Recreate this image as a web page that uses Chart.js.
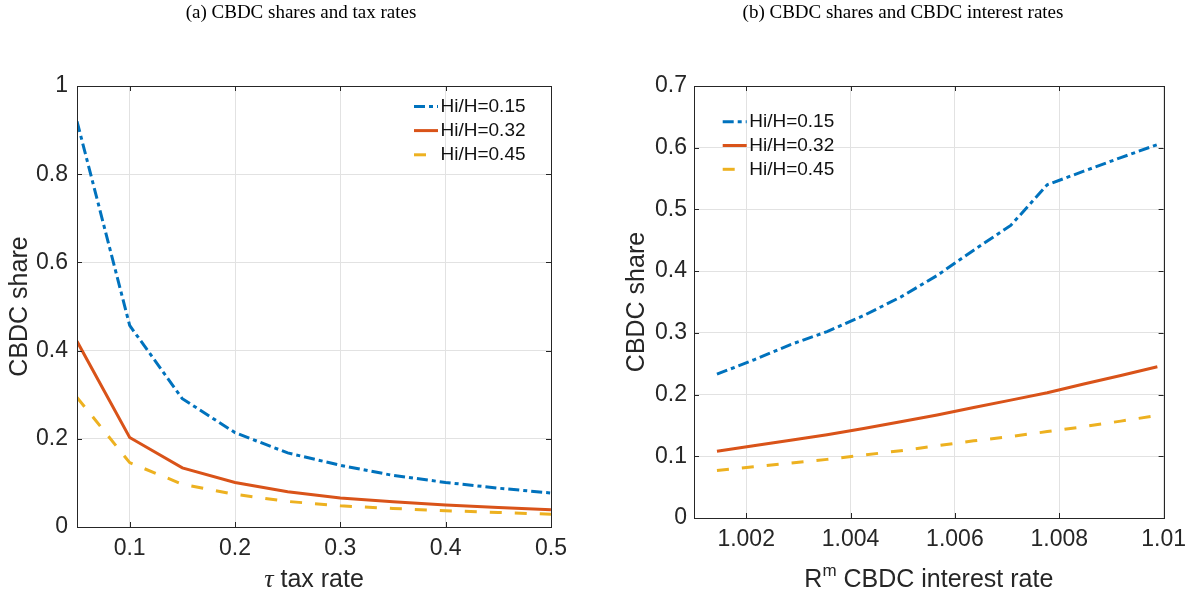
<!DOCTYPE html>
<html>
<head>
<meta charset="utf-8">
<title>CBDC shares</title>
<script src="https://cdn.jsdelivr.net/npm/chart.js@4.4.0/dist/chart.umd.min.js"></script>
<style>
  html, body { margin: 0; padding: 0; background: #fff; }
  .panel { position: absolute; top: 0; width: 597px; height: 600px; }
</style>
</head>
<body>
<div class="panel" style="left:0"><canvas id="chartTax" width="597" height="600"></canvas></div>
<div class="panel" style="left:597px"><canvas id="chartRate" width="597" height="600"></canvas></div>
<script>
const seriesNames = ["Hi/H=0.15", "Hi/H=0.32", "Hi/H=0.45"];

// (a) CBDC share against the tax rate
const taxRates   = [0.05, 0.10, 0.15, 0.20, 0.25, 0.30, 0.35, 0.40, 0.45, 0.50];
const taxShare15 = [0.920, 0.457, 0.291, 0.214, 0.168, 0.140, 0.117, 0.101, 0.088, 0.077];
const taxShare32 = [0.421, 0.203, 0.134, 0.101, 0.080, 0.066, 0.057, 0.050, 0.044, 0.039];
const taxShare45 = [0.294, 0.146, 0.097, 0.074, 0.058, 0.048, 0.042, 0.037, 0.033, 0.029];
const taxXTicks = [0.1, 0.2, 0.3, 0.4, 0.5];
const taxXTickLabels = ["0.1", "0.2", "0.3", "0.4", "0.5"];
const taxYTicks = [0, 0.2, 0.4, 0.6, 0.8, 1];
const taxYTickLabels = ["0", "0.2", "0.4", "0.6", "0.8", "1"];

// (b) CBDC share against the CBDC interest rate
const cbdcRates = [1.00144, 1.00214, 1.00285, 1.00355, 1.00425, 1.00496, 1.00566,
                   1.00636, 1.00707, 1.00777, 1.00847, 1.00918, 1.00988];
const rateShare15 = [0.233, 0.256, 0.281, 0.302, 0.328, 0.358, 0.393, 0.434, 0.474, 0.540, 0.562, 0.584, 0.605];
const rateShare32 = [0.108, 0.117, 0.126, 0.135, 0.145, 0.156, 0.167, 0.179, 0.191, 0.203, 0.217, 0.231, 0.245];
const rateShare45 = [0.077, 0.083, 0.089, 0.095, 0.102, 0.109, 0.117, 0.125, 0.132, 0.140, 0.148, 0.157, 0.166];
const rateXTicks = [1.002, 1.004, 1.006, 1.008, 1.01];
const rateXTickLabels = ["1.002", "1.004", "1.006", "1.008", "1.01"];
const rateYTicks = [0, 0.1, 0.2, 0.3, 0.4, 0.5, 0.6, 0.7];
const rateYTickLabels = ["0", "0.1", "0.2", "0.3", "0.4", "0.5", "0.6", "0.7"];

const lineStyles = [
  { color: "#0072BD", dash: [11, 4, 4, 4] },
  { color: "#D95319", dash: [] },
  { color: "#EDB120", dash: [12, 13] }
];

const SANS = "'Liberation Sans', Arial, Helvetica, sans-serif";
const SERIF = "'Liberation Serif', 'Times New Roman', serif";
const INK = "#262626";

Chart.defaults.font.family = SANS;
Chart.defaults.color = INK;

// axes box with short inward tick marks on all four sides
const frame = {
  id: "frame",
  afterDraw(chart) {
    const { ctx, chartArea: a, scales } = chart;
    const len = 5;
    ctx.save();
    ctx.strokeStyle = INK;
    ctx.lineWidth = 1;
    ctx.setLineDash([]);
    ctx.strokeRect(Math.round(a.left) + 0.5, Math.round(a.top) + 0.5,
                   Math.round(a.right - a.left), Math.round(a.bottom - a.top));
    ctx.beginPath();
    scales.x.ticks.forEach(t => {
      const px = Math.round(scales.x.getPixelForValue(t.value)) + 0.5;
      ctx.moveTo(px, a.bottom); ctx.lineTo(px, a.bottom - len);
      ctx.moveTo(px, a.top); ctx.lineTo(px, a.top + len);
    });
    scales.y.ticks.forEach(t => {
      const py = Math.round(scales.y.getPixelForValue(t.value)) + 0.5;
      ctx.moveTo(a.left, py); ctx.lineTo(a.left + len, py);
      ctx.moveTo(a.right, py); ctx.lineTo(a.right - len, py);
    });
    ctx.stroke();
    ctx.restore();
  }
};

// legend drawn inside the plot, using each dataset's own line style
function makeLegend(cfg) {
  return {
    id: "innerLegend",
    afterDatasetsDraw(chart) {
      const { ctx, chartArea: a } = chart;
      const x0 = cfg.side === "right" ? a.right - cfg.inset : a.left + cfg.inset;
      ctx.save();
      ctx.font = "19px " + SANS;
      ctx.textBaseline = "middle";
      chart.data.datasets.forEach((ds, i) => {
        const y = a.top + cfg.top + i * cfg.rowGap;
        ctx.strokeStyle = ds.borderColor;
        ctx.lineWidth = ds.borderWidth;
        ctx.lineCap = "butt";
        ctx.setLineDash(ds.borderDash || []);
        ctx.beginPath();
        ctx.moveTo(x0, y);
        ctx.lineTo(x0 + 24, y);
        ctx.stroke();
        ctx.fillStyle = "#111";
        ctx.fillText(ds.label, x0 + 26.5, y);
      });
      ctx.restore();
    }
  };
}

// x-axis caption with mixed styles (italic tau, superscript m)
function makeCaption(parts) {
  return {
    id: "xCaption",
    afterDraw(chart) {
      const { ctx, chartArea: a } = chart;
      ctx.save();
      ctx.textBaseline = "alphabetic";
      const widths = parts.map(p => { ctx.font = p.font; return ctx.measureText(p.text).width; });
      const total = widths.reduce((s, w) => s + w, 0);
      let x = (a.left + a.right) / 2 - total / 2;
      const y = chart.height - 13;
      parts.forEach((p, i) => {
        ctx.font = p.font;
        ctx.fillStyle = INK;
        ctx.fillText(p.text, x, y - (p.rise || 0));
        x += widths[i];
      });
      ctx.restore();
    }
  };
}

function buildChart(id, cfg) {
  return new Chart(document.getElementById(id), {
    type: "line",
    data: {
      datasets: cfg.series.map((vals, i) => ({
        label: seriesNames[i],
        data: cfg.x.map((x, j) => ({ x: x, y: vals[j] })),
        borderColor: lineStyles[i].color,
        borderDash: lineStyles[i].dash,
        borderWidth: 3,
        borderCapStyle: "butt",
        pointRadius: 0,
        tension: 0,
        fill: false
      }))
    },
    options: {
      responsive: false,
      animation: false,
      devicePixelRatio: 1,
      events: [],
      layout: { padding: { left: cfg.padLeft, right: 0, top: 0, bottom: 0 } },
      plugins: {
        legend: { display: false },
        tooltip: { enabled: false },
        title: {
          display: true,
          text: cfg.title,
          color: "#000",
          font: { family: SERIF, size: 19, weight: "normal" },
          padding: { top: 2, bottom: 61.2 }
        }
      },
      scales: {
        x: {
          type: "linear",
          min: cfg.xMin,
          max: cfg.xMax,
          afterBuildTicks: s => { s.ticks = cfg.xTicks.map(v => ({ value: v })); },
          afterFit: s => { s.height = cfg.xAxisHeight; },
          ticks: {
            callback: (v, i) => cfg.xTickLabels[i],
            font: { size: 23 },
            padding: 8,
            autoSkip: false,
            maxRotation: 0
          },
          grid: { color: "#e2e2e2", drawTicks: false },
          border: { display: false }
        },
        y: {
          type: "linear",
          min: cfg.yMin,
          max: cfg.yMax,
          afterBuildTicks: s => { s.ticks = cfg.yTicks.map(v => ({ value: v })); },
          afterFit: s => { s.width = cfg.yAxisWidth; },
          ticks: {
            callback: (v, i) => cfg.yTickLabels[i],
            font: { size: 23 },
            padding: cfg.yTickPad,
            autoSkip: false
          },
          grid: { color: "#e2e2e2", drawTicks: false },
          border: { display: false },
          title: {
            display: true,
            text: "CBDC share",
            font: { size: 25 },
            padding: { top: cfg.yTitlePad, bottom: 0 }
          }
        },
        gutter: {
          type: "linear",
          position: "right",
          display: true,
          afterFit: s => { s.width = cfg.rightGutter; },
          ticks: { display: false },
          grid: { display: false, drawTicks: false },
          border: { display: false }
        }
      }
    },
    plugins: [frame, makeLegend(cfg.legend), makeCaption(cfg.caption)]
  });
}

buildChart("chartTax", {
  title: "(a) CBDC shares and tax rates",
  x: taxRates,
  series: [taxShare15, taxShare32, taxShare45],
  xMin: 0.05, xMax: 0.5, xTicks: taxXTicks, xTickLabels: taxXTickLabels,
  yMin: 0, yMax: 1, yTicks: taxYTicks, yTickLabels: taxYTickLabels,
  padLeft: 5, yAxisWidth: 72, rightGutter: 46, xAxisHeight: 73,
  yTickPad: 9, yTitlePad: 0,
  legend: { side: "right", inset: 137, top: 20.4, rowGap: 24.2 },
  caption: [
    { text: "\u03C4", font: "italic 26px " + SERIF },
    { text: " tax rate", font: "25px " + SANS }
  ]
});

buildChart("chartRate", {
  title: "(b) CBDC shares and CBDC interest rates",
  x: cbdcRates,
  series: [rateShare15, rateShare32, rateShare45],
  xMin: 1.001, xMax: 1.01, xTicks: rateXTicks, xTickLabels: rateXTickLabels,
  yMin: 0, yMax: 0.7, yTicks: rateYTicks, yTickLabels: rateYTickLabels,
  padLeft: 15, yAxisWidth: 82, rightGutter: 26, xAxisHeight: 82,
  yTickPad: 7, yTitlePad: 10,
  legend: { side: "left", inset: 28.7, top: 35.7, rowGap: 23.8 },
  caption: [
    { text: "R", font: "25px " + SANS },
    { text: "m", font: "17px " + SANS, rise: 11 },
    { text: " CBDC interest rate", font: "25px " + SANS }
  ]
});
</script>
</body>
</html>
